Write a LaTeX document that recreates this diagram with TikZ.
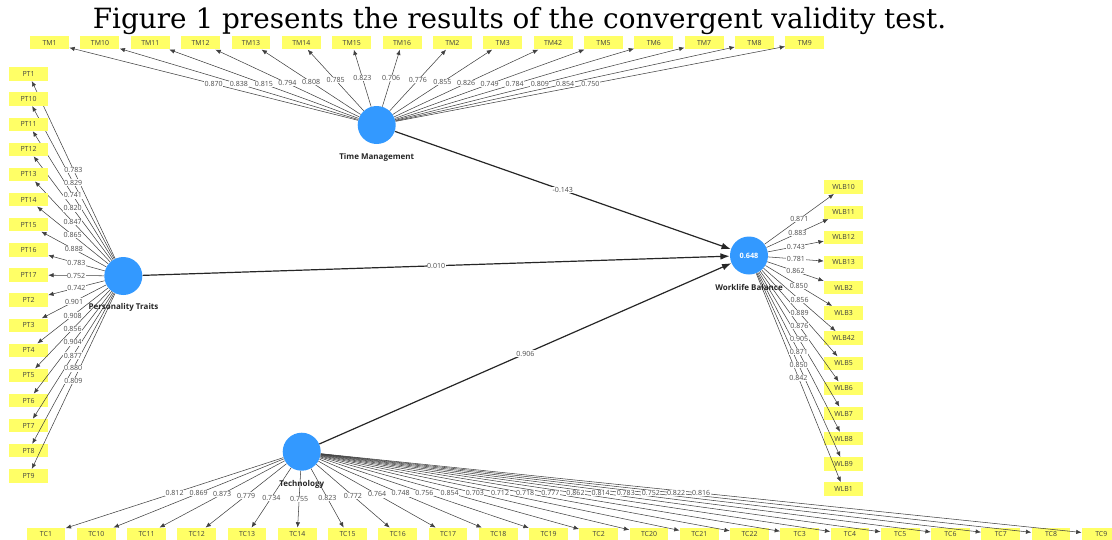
\documentclass[tikz,border=0pt]{standalone}
\usepackage{fontspec}
\setmainfont{DejaVu Serif}
\setsansfont{Open Sans}
\usetikzlibrary{arrows.meta}
\pgfdeclarelayer{front}
\pgfsetlayers{main,front}
\definecolor{lvblue}{RGB}{51,153,255}
\definecolor{indyellow}{RGB}{255,255,102}

\tikzset{
  lv/.style={circle, fill=lvblue, minimum size=28.5pt, inner sep=0pt},
  lvname/.style={font=\sffamily\bfseries\fontsize{6}{7}\selectfont, text=black!85},
  ind/.style={fill=indyellow, minimum width=29.2pt, minimum height=10pt, inner sep=0pt,
    font=\sffamily\fontsize{5.2}{6}\selectfont, text=black!75},
  load/.style={-{Latex[length=4pt,width=3.3pt]}, draw=black!75, line width=0.4pt},
  effect/.style={-{Latex[length=7pt,width=5pt]}, draw=black!85, line width=0.9pt},
  loadlab/.style={fill=white, inner sep=0.4pt, font=\sffamily\fontsize{5.3}{6}\selectfont, text=black!70}
}

\begin{document}
\begin{tikzpicture}[x=0.75pt, y=-0.75pt]
  \useasboundingbox (0,0) rectangle (1112,539);
  % title
  \node[anchor=base, font=\fontsize{20.9}{24}\selectfont] (title) at (519.5,28.3)
    {Figure 1 presents the results of the convergent validity test.};
  % latent variables
  \node[lv] (tm) at (376.7,125) {};
  \node[lv] (pt) at (123.3,276) {};
  \node[lv] (tc) at (301.7,451.7) {};
  \node[lv, font=\sffamily\bfseries\fontsize{5.5}{6}\selectfont, text=white] (wlb) at (749,255.5) {0.648};
  % time management indicators
  \foreach \lab/\val [count=\i from 0] in {TM1/0.870, TM10/0.838, TM11/0.815, TM12/0.794,
      TM13/0.808, TM14/0.785, TM15/0.823, TM16/0.706, TM2/0.776, TM3/0.855, TM42/0.826,
      TM5/0.749, TM6/0.784, TM7/0.809, TM8/0.854, TM9/0.750} {
    \node[ind] (\lab) at ({49.6+50.35*\i},42.7) {\lab};
    \draw[load] (tm) -- (\lab);
    \begin{pgfonlayer}{front}
      \path (tm) -- (\lab) node[midway, loadlab] {\val};
    \end{pgfonlayer}
  }
  % personality traits indicators
  \foreach \lab/\val [count=\i from 0] in {PT1/0.783, PT10/0.829, PT11/0.741, PT12/0.820,
      PT13/0.847, PT14/0.865, PT15/0.888, PT16/0.783, PT17/0.752, PT2/0.742, PT3/0.901,
      PT4/0.908, PT5/0.856, PT6/0.904, PT7/0.877, PT8/0.880, PT9/0.809} {
    \node[ind] (\lab) at (28.5,{74+25.12*\i}) {\lab};
    \draw[load] (pt) -- (\lab);
    \begin{pgfonlayer}{front}
      \path (pt) -- (\lab) node[midway, loadlab] {\val};
    \end{pgfonlayer}
  }
  % worklife balance indicators
  \foreach \lab/\val [count=\i from 0] in {WLB10/0.871, WLB11/0.883, WLB12/0.743,
      WLB13/0.781, WLB2/0.862, WLB3/0.850, WLB42/0.856, WLB5/0.889, WLB6/0.876,
      WLB7/0.905, WLB8/0.871, WLB9/0.850, WLB1/0.842} {
    \node[ind] (\lab) at (843.5,{187+25.17*\i}) {\lab};
    \draw[load] (wlb) -- (\lab);
    \begin{pgfonlayer}{front}
      \path (wlb) -- (\lab) node[midway, loadlab] {\val};
    \end{pgfonlayer}
  }
  % technology indicators
  \foreach \lab/\val [count=\i from 0] in {TC1/0.812, TC10/0.869, TC11/0.873, TC12/0.779,
      TC13/0.734, TC14/0.755, TC15/0.823, TC16/0.772, TC17/0.764, TC18/0.748, TC19/0.756,
      TC2/0.854, TC20/0.703, TC21/0.712, TC22/0.718, TC3/0.777, TC4/0.862, TC5/0.814,
      TC6/0.783, TC7/0.752, TC8/0.822, TC9/0.816} {
    \node[ind] (\lab) at ({46+50.25*\i},534.5) {\lab};
    \draw[load] (tc) -- (\lab);
    \begin{pgfonlayer}{front}
      \path (tc) -- (\lab) node[midway, loadlab] {\val};
    \end{pgfonlayer}
  }
  % structural paths
  \draw[effect] (tm) -- (wlb) node[midway, loadlab] {-0.143};
  \draw[effect] (pt) -- (wlb) node[midway, loadlab] {0.010};
  \draw[effect] (tc) -- (wlb) node[midway, loadlab] {0.906};
  % names of the latent variables
  \begin{pgfonlayer}{front}
    \node[lvname] (tm-name) at (376.7,157) {Time Management};
    \node[lvname] (pt-name) at (123.5,307) {Personality Traits};
    \node[lvname] (wlb-name) at (749,287.5) {Worklife Balance};
    \node[lvname] (tc-name) at (301.7,484) {Technology};
  \end{pgfonlayer}
\end{tikzpicture}
\end{document}
